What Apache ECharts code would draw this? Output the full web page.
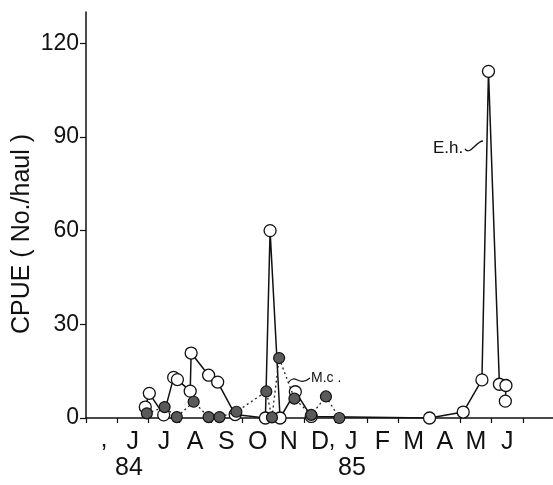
<!DOCTYPE html>
<html>
<head>
<meta charset="utf-8">
<script src="https://cdn.jsdelivr.net/npm/echarts@6/dist/echarts.min.js"></script>
<style>
  html, body { margin: 0; padding: 0; background: #fff; }
  #chart { width: 553px; height: 485px; }
</style>
</head>
<body>
<div id="chart"></div>
<script>
// month labels, May '84 .. Jul '85 (first and last are blank)
const months = ['', 'J', 'J', 'A', 'S', 'O', 'N', 'D', 'J', 'F', 'M', 'A', 'M', 'J', ''];
const yTicks = [0, 30, 60, 90, 120];

// x = months since 1 Jun 1984, y = CPUE
// E.h. (open circles, solid line), in drawing order
const ehX = [0.90, 1.03, 1.49, 1.81, 1.93, 2.34, 2.37, 2.93, 3.22, 3.78, 4.75, 4.90, 5.22, 5.71, 6.22, 10.01, 11.09, 11.69, 11.90, 12.25, 12.46, 12.44];
const ehY = [3.5, 7.9, 1.0, 13.0, 12.3, 8.6, 20.8, 13.7, 11.5, 1.1, 0, 60, 0, 8.4, 0.5, 0, 1.9, 12.2, 111, 10.8, 10.4, 5.4];

// M.c. (filled circles, dotted line)
const mcX = [0.95, 1.52, 1.91, 2.45, 2.93, 3.28, 3.82, 4.78, 4.96, 5.19, 5.68, 6.22, 6.69, 7.12];
const mcY = [1.5, 3.5, 0.3, 5.2, 0.3, 0.3, 2.0, 8.5, 0.2, 19.2, 6.2, 1.0, 6.9, 0];

const font = 'Liberation Sans, Arial, sans-serif';
const ink = '#111';

const chart = echarts.init(document.getElementById('chart'));

const option = {
  animation: false,
  backgroundColor: '#fff',
  grid: { left: 86, top: 12, width: 468, bottom: 67, containLabel: false, outerBoundsMode: 'none' },
  xAxis: [
    {
      type: 'category',
      data: months,
      boundaryGap: true,
      axisLine: { lineStyle: { color: ink, width: 1.5 } },
      axisTick: { show: true, length: 5, lineStyle: { color: ink, width: 1.2 } },
      axisLabel: { interval: 0, color: ink, fontSize: 25, fontFamily: font, margin: 12 },
      splitLine: { show: false }
    },
    {
      type: 'value',
      min: -1,
      max: 14,
      show: false
    }
  ],
  yAxis: {
    type: 'value',
    min: 0,
    max: 130,
    interval: 30,
    axisLine: { show: true, onZero: false, lineStyle: { color: ink, width: 1.5 } },
    axisTick: { show: true, length: 6, customValues: yTicks, lineStyle: { color: ink, width: 1.2 } },
    axisLabel: {
      color: ink, fontSize: 23, fontFamily: font, margin: 7,
      customValues: yTicks,
      formatter: v => (yTicks.indexOf(v) >= 0 ? String(v) : '')
    },
    splitLine: { show: false }
  },
  series: [
    {
      name: 'E.h.',
      type: 'line',
      xAxisIndex: 1,
      data: ehX.map((x, i) => [x, ehY[i]]),
      symbol: 'circle',
      symbolSize: 12,
      showAllSymbol: true,
      itemStyle: { color: '#fff', borderColor: ink, borderWidth: 1.3 },
      lineStyle: { color: ink, width: 1.5 },
      z: 2
    },
    {
      name: 'M.c.',
      type: 'line',
      xAxisIndex: 1,
      data: mcX.map((x, i) => [x, mcY[i]]),
      symbol: 'circle',
      symbolSize: 11,
      showAllSymbol: true,
      itemStyle: { color: '#5a5a5a', borderColor: ink, borderWidth: 1.2 },
      lineStyle: { color: '#222', width: 1.3, type: [2, 3] },
      z: 3
    }
  ],
  graphic: [
    {
      type: 'text', x: 22, y: 234, rotation: Math.PI / 2,
      style: { text: 'CPUE ( No./haul )', fill: ink, font: '25px ' + font, textAlign: 'center', textVerticalAlign: 'middle' }
    },
    { type: 'text', x: 104, y: 455, style: { text: '’', fill: ink, font: '25px ' + font, textAlign: 'center', textVerticalAlign: 'middle' } },
    { type: 'text', x: 129, y: 468, style: { text: '84', fill: ink, font: '25px ' + font, textAlign: 'center', textVerticalAlign: 'middle' } },
    { type: 'text', x: 332, y: 455, style: { text: '’', fill: ink, font: '25px ' + font, textAlign: 'center', textVerticalAlign: 'middle' } },
    { type: 'text', x: 352, y: 468, style: { text: '85', fill: ink, font: '25px ' + font, textAlign: 'center', textVerticalAlign: 'middle' } },
    { type: 'text', x: 433, y: 148, style: { text: 'E.h.', fill: ink, font: '17px ' + font, textAlign: 'left', textVerticalAlign: 'middle' } },
    {
      type: 'bezierCurve',
      shape: { x1: 465, y1: 149, x2: 483, y2: 141, cpx1: 470, cpy1: 156, cpx2: 476, cpy2: 141 },
      style: { stroke: ink, lineWidth: 1.3, fill: null }
    },
    { type: 'text', x: 311, y: 378, style: { text: 'M.c .', fill: ink, font: '14px ' + font, textAlign: 'left', textVerticalAlign: 'middle' } },
    {
      type: 'bezierCurve',
      shape: { x1: 288, y1: 383, x2: 310, y2: 378, cpx1: 296, cpy1: 372, cpx2: 298, cpy2: 388 },
      style: { stroke: ink, lineWidth: 1.2, fill: null }
    }
  ]
};

chart.setOption(option);
</script>
</body>
</html>
